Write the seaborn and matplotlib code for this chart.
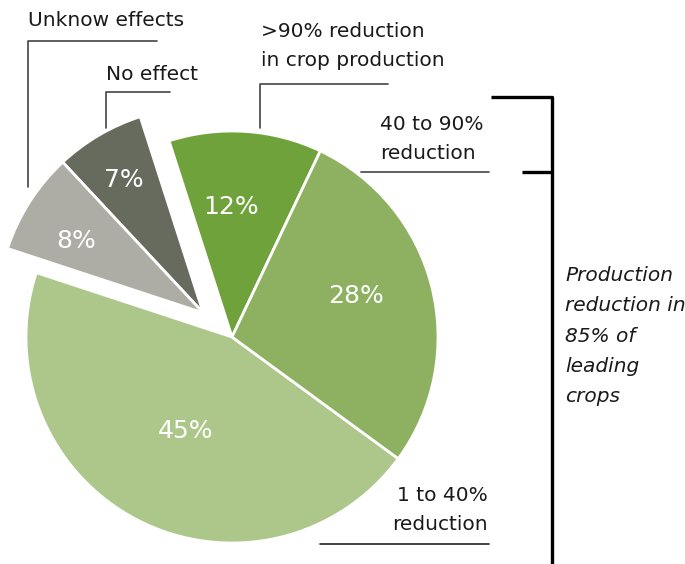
import numpy as np
import matplotlib
matplotlib.use("Agg")
import matplotlib.pyplot as plt
import seaborn as sns

# ---- data ----
categories = [">90% reduction", "No effect", "Unknow effects", "1 to 40% reduction", "40 to 90% reduction"]
values = [12, 7, 8, 45, 28]
pct_labels = ["12%", "7%", "8%", "45%", "28%"]
colors = ["#6fa23b", "#666b5e", "#adada5", "#adc78a", "#8db160"]
exploded = [False, True, True, False, False]
pct_dist = [0.63, 0.75, 0.71, 0.51, 0.635]
pct_nudge = [4, 0.5, 3, 1, 4]

sns.set_style("white")
plt.rcParams['font.family'] = ['DejaVu Sans']

W, H = 685, 564
fig = plt.figure(figsize=(W / 100, H / 100), dpi=100)
ax = fig.add_axes([0, 0, 1, 1])

def Y(y):
    return H - y

cx, cy = 232, Y(337)
R = 206
start = 64.6
wedges, _ = ax.pie(values, colors=colors, startangle=start, counterclock=True,
                   center=(cx, cy), radius=R, frame=True,
                   wedgeprops=dict(edgecolor="white", linewidth=2))
ax.set_xlim(0, W)
ax.set_ylim(0, H)
ax.set_aspect('equal')
ax.axis('off')

# shift the two "no/unknown effect" wedges together
off_d, off_a = 37.6, np.deg2rad(140)
shift = (off_d * np.cos(off_a), off_d * np.sin(off_a))
for w, ex in zip(wedges, exploded):
    if ex:
        w.set_center((cx + shift[0], cy + shift[1]))

# percentage labels
for w, lab, d, nd in zip(wedges, pct_labels, pct_dist, pct_nudge):
    mid = np.deg2rad((w.theta1 + w.theta2) / 2 + nd)
    ccx, ccy = w.center
    ax.text(ccx + d * R * np.cos(mid), ccy + d * R * np.sin(mid), lab,
            color="white", fontsize=18, ha="center", va="center")

txt_col = "#1a1a1a"
line_col = "#444444"
fs = 14.5
ls = 1.68

# Unknow effects
ax.text(28, Y(20), categories[2], fontsize=fs, color=txt_col, ha="left", va="center")
ax.plot([157, 28, 28], [Y(41), Y(41), Y(187)], color=line_col, lw=1.2)
# No effect
ax.text(106, Y(75), categories[1], fontsize=fs, color=txt_col, ha="left", va="center")
ax.plot([170, 106, 106], [Y(92), Y(92), Y(128)], color=line_col, lw=1.2)
# >90%
ax.text(261, Y(46), ">90% reduction\nin crop production", fontsize=fs, color=txt_col,
        ha="left", va="center", linespacing=ls)
ax.plot([388, 260, 260], [Y(84), Y(84), Y(128)], color=line_col, lw=1.2)
# 40 to 90%
ax.text(380, Y(139), "40 to 90%\nreduction", fontsize=fs, color=txt_col,
        ha="left", va="center", linespacing=ls)
ax.plot([361, 489], [Y(172), Y(172)], color=line_col, lw=1.2)
# 1 to 40%
ax.text(488, Y(510), "1 to 40%\nreduction", fontsize=fs, color=txt_col,
        ha="right", va="center", linespacing=ls)
ax.plot([320, 489], [Y(544), Y(544)], color="#222222", lw=1.2)

# bracket
ax.plot([491, 552, 552], [Y(97), Y(97), Y(566)], color="black", lw=2.4, solid_capstyle="butt")
ax.plot([522, 552], [Y(172), Y(172)], color="black", lw=2.4, solid_capstyle="butt")
ax.text(565, Y(336), "Production\nreduction in\n85% of\nleading\ncrops", fontsize=fs,
        color=txt_col, style="italic", ha="left", va="center", linespacing=1.75)

fig.savefig("out.png", dpi=100)
